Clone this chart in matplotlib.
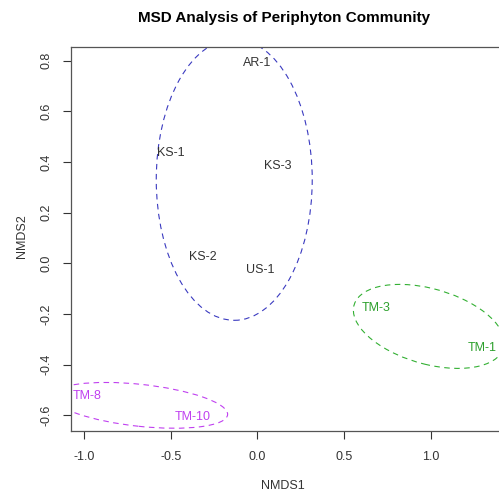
import matplotlib
matplotlib.use("Agg")
import matplotlib.pyplot as plt
from matplotlib.patches import Ellipse

# ---- data ----
site_labels = ["AR-1", "KS-1", "KS-3", "KS-2", "US-1", "TM-3", "TM-1", "TM-8", "TM-10"]
nmds1 = [0.002, -0.50, 0.118, -0.317, 0.017, 0.685, 1.30, -0.984, -0.371]
nmds2 = [0.789, 0.434, 0.384, 0.025, -0.028, -0.175, -0.335, -0.524, -0.608]
site_colors = ["#333333"] * 5 + ["#2ca02c"] * 2 + ["#c040f0"] * 2

# group ellipses: centre x, centre y, semi-axis a, semi-axis b, angle (deg)
ell_cx = [-0.133, 0.99, -0.677]
ell_cy = [0.33, -0.249, -0.5605]
ell_a = [0.45, 0.441, 0.507]
ell_b = [0.555, 0.151, 0.083]
ell_ang = [0.0, -9.5, -4.1]
ell_colors = ["#3a3ac0", "#33b033", "#c040f0"]

x_ticks = [-1.0, -0.5, 0.0, 0.5, 1.0]
y_ticks = [-0.6, -0.4, -0.2, 0.0, 0.2, 0.4, 0.6, 0.8]

W, H = 499, 494
fig = plt.figure(figsize=(W / 100, H / 100), dpi=100)
plt.rcParams["font.family"] = ["Liberation Sans", "DejaVu Sans"]

left_px, right_px, top_px, bot_px = 71, 500, 47, 431
ax = fig.add_axes([left_px / W, (H - bot_px) / H, (right_px - left_px) / W, (bot_px - top_px) / H])
ax.set_xlim(-1.075, 1.4005)
ax.set_ylim(-0.6618, 0.8536)

for cx, cy, a, b, ang, col in zip(ell_cx, ell_cy, ell_a, ell_b, ell_ang, ell_colors):
    e = Ellipse((cx, cy), 2 * a, 2 * b, angle=ang, fill=False, edgecolor=col,
                linewidth=0.8, linestyle=(0, (5, 4)))
    ax.add_patch(e)

for lab, x, y, c in zip(site_labels, nmds1, nmds2, site_colors):
    ax.text(x, y, lab, ha="center", va="center", fontsize=9, color=c)

ax.set_xticks(x_ticks)
ax.set_xticklabels([f"{v:.1f}" for v in x_ticks])
ax.set_yticks(y_ticks)
ax.set_yticklabels([f"{v:.1f}" for v in y_ticks], rotation=90, va="center")
ax.tick_params(axis="both", direction="out", length=6, width=0.8, color="#333333",
               labelsize=9, labelcolor="#333333")
ax.tick_params(axis="x", pad=8.5)
ax.tick_params(axis="y", pad=7)
for s in ax.spines.values():
    s.set_color("#555555")
    s.set_linewidth(0.9)

fig.text(22 / W, 1 - 236 / H, "NMDS2", rotation=90, ha="center", va="center", fontsize=9, color="#333333")
fig.text(283 / W, 1 - 486 / H, "NMDS1", ha="center", va="center", fontsize=9, color="#333333")
fig.text(283.7 / W, 1 - 18 / H, "MSD Analysis of Periphyton Community", ha="center", va="center",
         fontsize=11, fontweight="bold", color="black")

fig.savefig("out.png", dpi=100)
